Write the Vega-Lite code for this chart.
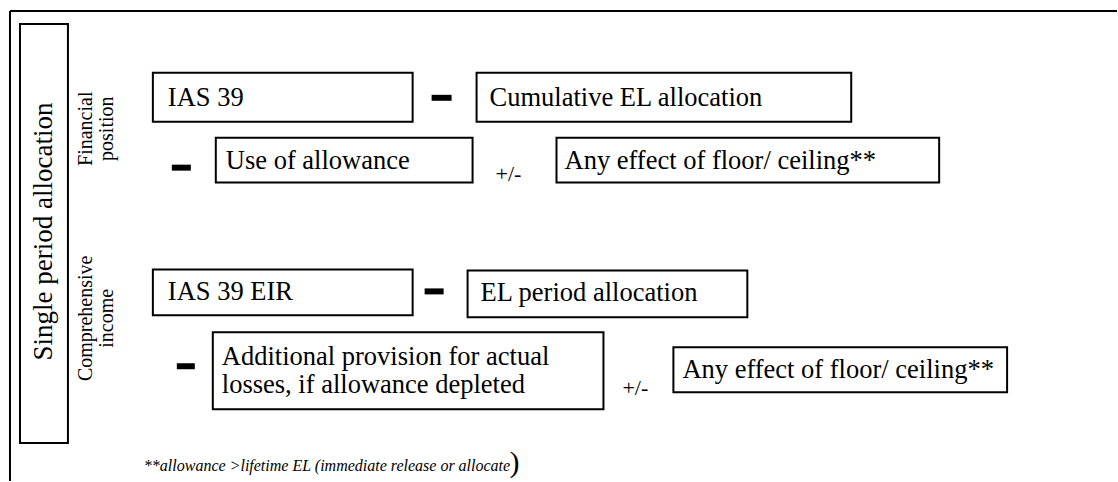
{
  "$schema": "https://vega.github.io/schema/vega-lite/v6.json",
  "width": 1118,
  "height": 482,
  "autosize": {"type": "fit", "contains": "padding"},
  "padding": 0,
  "background": "white",
  "config": {"view": {"stroke": null}},
  "datasets": {
    "frame": [
      {"x1": 10, "y1": 11, "x2": 1118, "y2": 11},
      {"x1": 10, "y1": 11, "x2": 10, "y2": 482}
    ],
    "boxes": [
      {"name": "title", "x1": 20, "x2": 68, "y1": 24, "y2": 444},
      {"name": "IAS 39", "x1": 153, "x2": 413, "y1": 73, "y2": 122},
      {"name": "Cumulative EL allocation", "x1": 477, "x2": 852, "y1": 73, "y2": 122},
      {"name": "Use of allowance", "x1": 216, "x2": 473, "y1": 138, "y2": 183},
      {"name": "Any effect 1", "x1": 557, "x2": 940, "y1": 138, "y2": 183},
      {"name": "IAS 39 EIR", "x1": 153, "x2": 413, "y1": 270, "y2": 316},
      {"name": "EL period allocation", "x1": 468, "x2": 748, "y1": 271, "y2": 318},
      {"name": "Additional provision", "x1": 213, "x2": 604, "y1": 333, "y2": 410},
      {"name": "Any effect 2", "x1": 674, "x2": 1008, "y1": 348, "y2": 393}
    ],
    "minus": [
      {"x1": 432, "x2": 452, "y1": 95, "y2": 101},
      {"x1": 172, "x2": 191, "y1": 165, "y2": 171},
      {"x1": 425, "x2": 444, "y1": 289, "y2": 295},
      {"x1": 177, "x2": 195, "y1": 364, "y2": 370}
    ],
    "boxtext": [
      {"x": 168, "y": 98, "t": "IAS 39"},
      {"x": 490, "y": 98, "t": "Cumulative EL allocation"},
      {"x": 226, "y": 161, "t": "Use of allowance"},
      {"x": 565, "y": 161, "t": "Any effect of floor/ ceiling**"},
      {"x": 168, "y": 293, "t": "IAS 39 EIR"},
      {"x": 481, "y": 294, "t": "EL period allocation"},
      {"x": 222, "y": 358, "t": "Additional provision for actual"},
      {"x": 222, "y": 386, "t": "losses, if allowance depleted"},
      {"x": 683, "y": 371, "t": "Any effect of floor/ ceiling**"}
    ],
    "pm": [
      {"x": 496, "y": 174, "t": "+/-"},
      {"x": 623, "y": 389, "t": "+/-"}
    ],
    "side": [
      {"x": 86, "y": 129, "t": "Financial"},
      {"x": 107, "y": 129, "t": "position"},
      {"x": 86, "y": 319, "t": "Comprehensive"},
      {"x": 107, "y": 319, "t": "income"}
    ],
    "title": [
      {"x": 44, "y": 232, "t": "Single period allocation"}
    ],
    "foot": [
      {"x": 144, "y": 467, "t": "**allowance >lifetime EL (immediate release or allocate"}
    ],
    "paren": [
      {"x": 510, "y": 464, "t": ")"}
    ]
  },
  "layer": [
    {
      "data": {"name": "frame"},
      "mark": {"type": "rule", "stroke": "black", "strokeWidth": 2},
      "encoding": {
        "x": {"field": "x1", "type": "quantitative", "scale": {"domain": [0, 1118], "nice": false, "zero": false}, "axis": null},
        "x2": {"field": "x2"},
        "y": {"field": "y1", "type": "quantitative", "scale": {"domain": [0, 482], "nice": false, "zero": false, "reverse": true}, "axis": null},
        "y2": {"field": "y2"}
      }
    },
    {
      "data": {"name": "boxes"},
      "mark": {"type": "rect", "fill": "white", "stroke": "black", "strokeWidth": 2},
      "encoding": {
        "x": {"field": "x1", "type": "quantitative", "scale": {"domain": [0, 1118], "nice": false, "zero": false}, "axis": null},
        "x2": {"field": "x2"},
        "y": {"field": "y1", "type": "quantitative", "scale": {"domain": [0, 482], "nice": false, "zero": false, "reverse": true}, "axis": null},
        "y2": {"field": "y2"}
      }
    },
    {
      "data": {"name": "minus"},
      "mark": {"type": "rect", "fill": "black"},
      "encoding": {
        "x": {"field": "x1", "type": "quantitative", "scale": {"domain": [0, 1118], "nice": false, "zero": false}, "axis": null},
        "x2": {"field": "x2"},
        "y": {"field": "y1", "type": "quantitative", "scale": {"domain": [0, 482], "nice": false, "zero": false, "reverse": true}, "axis": null},
        "y2": {"field": "y2"}
      }
    },
    {
      "data": {"name": "boxtext"},
      "mark": {"type": "text", "align": "left", "baseline": "middle", "fontSize": 26.5, "font": "Liberation Serif", "color": "black"},
      "encoding": {
        "x": {"field": "x", "type": "quantitative", "scale": {"domain": [0, 1118], "nice": false, "zero": false}, "axis": null},
        "y": {"field": "y", "type": "quantitative", "scale": {"domain": [0, 482], "nice": false, "zero": false, "reverse": true}, "axis": null},
        "text": {"field": "t"}
      }
    },
    {
      "data": {"name": "pm"},
      "mark": {"type": "text", "align": "left", "baseline": "middle", "fontSize": 22, "font": "Liberation Serif", "color": "black"},
      "encoding": {
        "x": {"field": "x", "type": "quantitative", "scale": {"domain": [0, 1118], "nice": false, "zero": false}, "axis": null},
        "y": {"field": "y", "type": "quantitative", "scale": {"domain": [0, 482], "nice": false, "zero": false, "reverse": true}, "axis": null},
        "text": {"field": "t"}
      }
    },
    {
      "data": {"name": "side"},
      "mark": {"type": "text", "align": "center", "baseline": "middle", "fontSize": 20, "angle": 270, "font": "Liberation Serif", "color": "black"},
      "encoding": {
        "x": {"field": "x", "type": "quantitative", "scale": {"domain": [0, 1118], "nice": false, "zero": false}, "axis": null},
        "y": {"field": "y", "type": "quantitative", "scale": {"domain": [0, 482], "nice": false, "zero": false, "reverse": true}, "axis": null},
        "text": {"field": "t"}
      }
    },
    {
      "data": {"name": "title"},
      "mark": {"type": "text", "align": "center", "baseline": "middle", "fontSize": 27, "angle": 270, "font": "Liberation Serif", "color": "black"},
      "encoding": {
        "x": {"field": "x", "type": "quantitative", "scale": {"domain": [0, 1118], "nice": false, "zero": false}, "axis": null},
        "y": {"field": "y", "type": "quantitative", "scale": {"domain": [0, 482], "nice": false, "zero": false, "reverse": true}, "axis": null},
        "text": {"field": "t"}
      }
    },
    {
      "data": {"name": "foot"},
      "mark": {"type": "text", "align": "left", "baseline": "middle", "fontSize": 16, "fontStyle": "italic", "font": "Liberation Serif", "color": "black"},
      "encoding": {
        "x": {"field": "x", "type": "quantitative", "scale": {"domain": [0, 1118], "nice": false, "zero": false}, "axis": null},
        "y": {"field": "y", "type": "quantitative", "scale": {"domain": [0, 482], "nice": false, "zero": false, "reverse": true}, "axis": null},
        "text": {"field": "t"}
      }
    },
    {
      "data": {"name": "paren"},
      "mark": {"type": "text", "align": "left", "baseline": "middle", "fontSize": 30, "font": "Liberation Serif", "color": "black"},
      "encoding": {
        "x": {"field": "x", "type": "quantitative", "scale": {"domain": [0, 1118], "nice": false, "zero": false}, "axis": null},
        "y": {"field": "y", "type": "quantitative", "scale": {"domain": [0, 482], "nice": false, "zero": false, "reverse": true}, "axis": null},
        "text": {"field": "t"}
      }
    }
  ]
}
